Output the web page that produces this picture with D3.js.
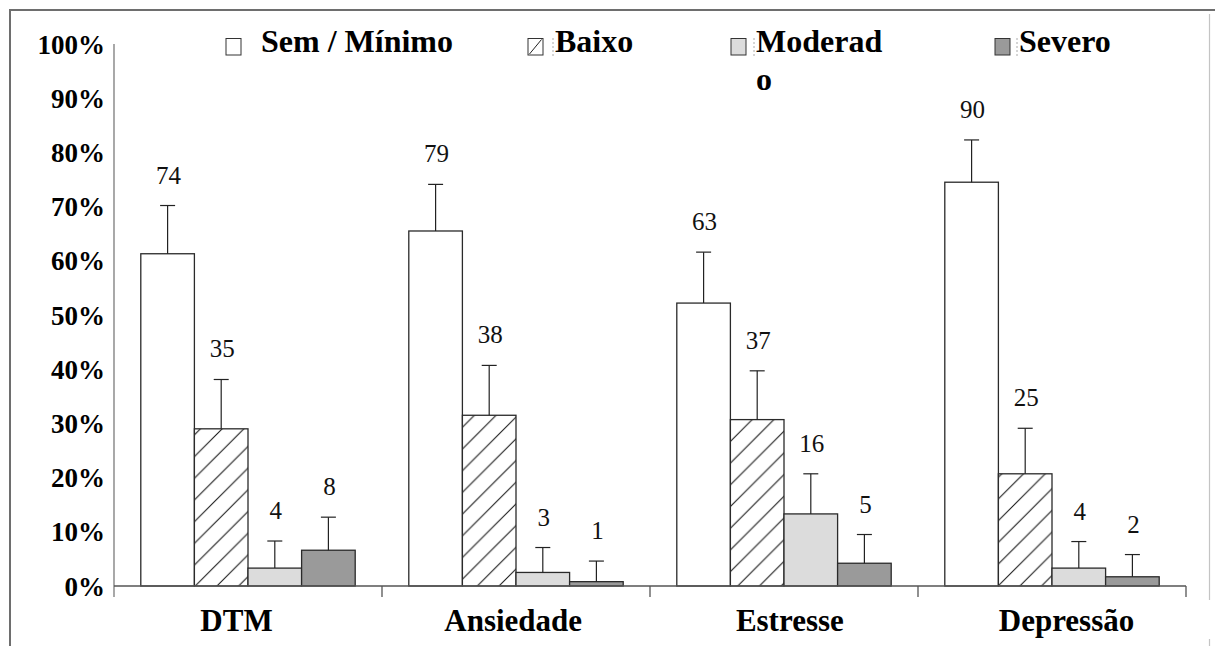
<!DOCTYPE html>
<html>
<head>
<meta charset="utf-8">
<script src="https://cdn.jsdelivr.net/npm/d3@7"></script>
<style>
  html, body { margin: 0; padding: 0; background: #ffffff; }
  svg { display: block; }
  svg text { font-family: "Liberation Serif", "Times New Roman", serif; }
</style>
</head>
<body>
<svg id="chart" width="1215" height="646"></svg>
<script>
// ---------- data ----------
const categories = ["DTM", "Ansiedade", "Estresse", "Depressão"];
const seriesNames = ["Sem / Mínimo", "Baixo", "Moderado", "Severo"];

// bar heights (percent of sample)
const semValues      = [61.3, 65.5, 52.2, 74.5];
const baixoValues    = [29.0, 31.5, 30.7, 20.7];
const moderadoValues = [3.3, 2.5, 13.3, 3.3];
const severoValues   = [6.6, 0.8, 4.2, 1.7];

// error bar extents (percent, added above the bar)
const semErr      = [8.9, 8.6, 9.4, 7.8];
const baixoErr    = [9.1, 9.2, 9.0, 8.4];
const moderadoErr = [5.0, 4.6, 7.4, 4.9];
const severoErr   = [6.1, 3.8, 5.3, 4.1];

// counts printed above the bars
const semCounts      = [74, 79, 63, 90];
const baixoCounts    = [35, 38, 37, 25];
const moderadoCounts = [4, 3, 16, 4];
const severoCounts   = [8, 1, 5, 2];

const yTickValues = [0, 10, 20, 30, 40, 50, 60, 70, 80, 90, 100];
const yTickLabels = ["0%", "10%", "20%", "30%", "40%", "50%", "60%", "70%", "80%", "90%", "100%"];

// ---------- assemble ----------
const seriesValues = [semValues, baixoValues, moderadoValues, severoValues];
const seriesErr = [semErr, baixoErr, moderadoErr, severoErr];
const seriesCounts = [semCounts, baixoCounts, moderadoCounts, severoCounts];
const rows = [];
categories.forEach((c, ci) => {
  seriesNames.forEach((s, si) => {
    rows.push({cat: c, series: s, si, value: seriesValues[si][ci], err: seriesErr[si][ci], count: seriesCounts[si][ci]});
  });
});

const SERIF = "Liberation Serif";
const svg = d3.select("#chart");

const plotLeft = 114, plotRight = 1186, plotTop = 44, plotBottom = 586;

const x = d3.scaleBand().domain(categories).range([plotLeft, plotRight]).padding(0);
const xInner = d3.scaleBand().domain(seriesNames).range([0, x.bandwidth()]).paddingInner(0).paddingOuter(0.5);
const y = d3.scaleLinear().domain([0, 100]).range([plotBottom, plotTop]);
const labelX = d3.scalePoint().domain(categories).range([236, 1066]);

// ---------- defs: hatch ----------
const defs = svg.append("defs");
const hs = 21.7;
const pat = defs.append("pattern")
  .attr("id", "hatch").attr("patternUnits", "userSpaceOnUse")
  .attr("width", hs).attr("height", hs);
pat.append("rect").attr("width", hs).attr("height", hs).attr("fill", "#ffffff");
pat.append("path")
  .attr("d", `M0,${hs} L${hs},0 M${-hs/2},${hs/2} L${hs/2},${-hs/2} M${hs/2},${hs*1.5} L${hs*1.5},${hs/2}`)
  .attr("stroke", "#1a1a1a").attr("stroke-width", 1.1);

const fills = {
  "Sem / Mínimo": "#ffffff",
  "Baixo": "url(#hatch)",
  "Moderado": "#dcdcdc",
  "Severo": "#9a9a9a"
};

// ---------- frame ----------
svg.append("line").attr("x1", 10).attr("x2", 10).attr("y1", 9).attr("y2", 646)
  .attr("stroke", "#6e6e6e").attr("stroke-width", 2);
svg.append("line").attr("x1", 9).attr("x2", 1215).attr("y1", 10).attr("y2", 10)
  .attr("stroke", "#6e6e6e").attr("stroke-width", 2);
svg.append("line").attr("x1", 1209.5).attr("x2", 1209.5).attr("y1", 14).attr("y2", 600)
  .attr("stroke", "#c4c4c4").attr("stroke-width", 1.2);
svg.append("line").attr("x1", 1209.5).attr("x2", 1209.5).attr("y1", 639).attr("y2", 646)
  .attr("stroke", "#c4c4c4").attr("stroke-width", 1.2);

// ---------- y axis ----------
const yAxis = d3.axisLeft(y).tickValues(yTickValues)
  .tickFormat((d, i) => yTickLabels[i]).tickSize(0).tickPadding(9);
const yg = svg.append("g").attr("transform", `translate(${plotLeft},0)`).call(yAxis);
yg.attr("font-family", null);
yg.select(".domain").remove();
yg.selectAll("text")
  .style("font-family", SERIF).style("font-size", "27px").style("font-weight", "bold")
  .attr("fill", "#000").attr("dy", "0.34em");
svg.append("line").attr("x1", plotLeft).attr("x2", plotLeft)
  .attr("y1", y(100)).attr("y2", plotBottom + 11)
  .attr("stroke", "#7a7a7a").attr("stroke-width", 1.3);

// ---------- bars ----------
const barG = svg.append("g");
barG.selectAll("rect.bar").data(rows).join("rect")
  .attr("class", "bar")
  .attr("x", d => x(d.cat) + xInner(d.series))
  .attr("y", d => y(d.value))
  .attr("width", xInner.bandwidth())
  .attr("height", d => y(0) - y(d.value))
  .attr("fill", d => fills[d.series])
  .attr("stroke", "#2a2a2a").attr("stroke-width", 1.3);

// error bars
const errG = svg.append("g").attr("stroke", "#222").attr("stroke-width", 1.2);
errG.selectAll("line.ev").data(rows).join("line")
  .attr("class", "ev")
  .attr("x1", d => x(d.cat) + xInner(d.series) + xInner.bandwidth() / 2)
  .attr("x2", d => x(d.cat) + xInner(d.series) + xInner.bandwidth() / 2)
  .attr("y1", d => y(d.value)).attr("y2", d => y(d.value + d.err));
errG.selectAll("line.ec").data(rows).join("line")
  .attr("class", "ec")
  .attr("x1", d => x(d.cat) + xInner(d.series) + xInner.bandwidth() / 2 - 7.5)
  .attr("x2", d => x(d.cat) + xInner(d.series) + xInner.bandwidth() / 2 + 7.5)
  .attr("y1", d => y(d.value + d.err)).attr("y2", d => y(d.value + d.err));

// count labels
svg.append("g").selectAll("text").data(rows).join("text")
  .attr("x", d => x(d.cat) + xInner(d.series) + xInner.bandwidth() / 2 + 1)
  .attr("y", d => y(d.value + d.err) - 22)
  .attr("text-anchor", "middle")
  .style("font-family", SERIF).style("font-size", "25px").attr("fill", "#111")
  .text(d => d.count);

// ---------- x axis ----------
svg.append("line").attr("x1", plotLeft).attr("x2", plotRight)
  .attr("y1", plotBottom).attr("y2", plotBottom)
  .attr("stroke", "#555").attr("stroke-width", 1.3);
svg.append("g").selectAll("line").data(categories).join("line")
  .attr("x1", d => x(d) + x.bandwidth()).attr("x2", d => x(d) + x.bandwidth())
  .attr("y1", plotBottom).attr("y2", plotBottom + 11)
  .attr("stroke", "#555").attr("stroke-width", 1.3);

const xAxis = d3.axisBottom(labelX).tickSize(0).tickPadding(0);
const xg = svg.append("g").attr("transform", `translate(0,${plotBottom})`).call(xAxis);
xg.attr("font-family", null);
xg.select(".domain").remove();
xg.selectAll("text")
  .style("font-family", SERIF).style("font-size", "31px").style("font-weight", "bold")
  .attr("fill", "#000").attr("y", 45).attr("dy", 0);

// ---------- legend ----------
const legendLayout = [
  {box: 226, text: 261, lines: ["Sem / Mínimo"]},
  {box: 528, text: 555, lines: ["Baixo"]},
  {box: 731, text: 756, lines: ["Moderad", "o"]},
  {box: 995, text: 1019, lines: ["Severo"]}
];
const lg = svg.append("g");
seriesNames.forEach((s, i) => {
  const L = legendLayout[i];
  lg.append("rect").attr("x", L.box).attr("y", 38.5).attr("width", 15).attr("height", 16.5)
    .attr("fill", s === "Baixo" ? "#fff" : fills[s]).attr("stroke", "#333").attr("stroke-width", 1);
  if (s === "Baixo") {
    lg.append("line").attr("x1", L.box + 1.5).attr("y1", 54).attr("x2", L.box + 13.5).attr("y2", 39.5)
      .attr("stroke", "#222").attr("stroke-width", 1);
  }
  if (i > 0) {
    lg.append("line").attr("x1", L.text - 2).attr("x2", L.text - 2).attr("y1", 38).attr("y2", 58)
      .attr("stroke", "#aaa").attr("stroke-width", 1).attr("stroke-dasharray", "2,2");
  }
  L.lines.forEach((t, li) => {
    lg.append("text")
      .attr("x", L.text).attr("y", 52 + li * 38)
      .style("font-family", SERIF).style("font-size", "32px").style("font-weight", "bold")
      .attr("fill", "#000")
      .text(t);
  });
});
</script>
</body>
</html>
